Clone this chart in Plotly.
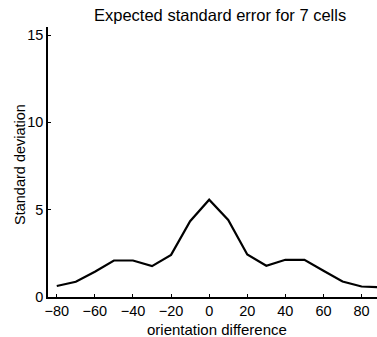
import plotly.graph_objects as go

orientation = [-80, -70, -60, -50, -40, -30, -20, -10, 0, 10, 20, 30, 40, 50, 60, 70, 80, 90]
std_dev = [0.63, 0.87, 1.45, 2.09, 2.09, 1.77, 2.41, 4.34, 5.57, 4.41, 2.43, 1.79, 2.13, 2.13, 1.50, 0.89, 0.60, 0.55]
x_ticks = [-80, -60, -40, -20, 0, 20, 40, 60, 80]
y_ticks = [0, 5, 10, 15]

W, H = 377, 337
ml, mr, mt, mb = 48, 0, 27, 40
font = "Liberation Sans, Arial, sans-serif"

fig = go.Figure()
fig.add_trace(go.Scatter(x=orientation, y=std_dev, mode="lines",
                         line=dict(color="black", width=2.2), showlegend=False,
                         hoverinfo="skip"))

fig.update_layout(
    width=W, height=H,
    margin=dict(l=ml, r=mr, t=mt, b=mb, pad=0),
    paper_bgcolor="white", plot_bgcolor="white",
    font=dict(family=font, size=14, color="black"),
    xaxis=dict(range=[-84.6, 88.1], tickvals=x_ticks,
               ticktext=["\u2212" + str(-v) if v < 0 else str(v) for v in x_ticks],
               ticks="inside", ticklen=3, tickcolor="black", tickwidth=1,
               showline=True, linecolor="black", linewidth=1.5,
               showgrid=False, zeroline=False, ticklabelstandoff=0,
               tickfont=dict(size=14.5), fixedrange=True),
    yaxis=dict(range=[0, 15.46], tickvals=y_ticks,
               ticks="inside", ticklen=3, tickcolor="black", tickwidth=1,
               showline=True, linecolor="black", linewidth=1.5,
               showgrid=False, zeroline=False,
               tickfont=dict(size=14.5), fixedrange=True),
    annotations=[
        dict(text="Expected standard error for 7 cells", xref="paper", yref="paper",
             x=(219.5 - ml) / (W - ml - mr), y=1 + (mt - 15) / (H - mt - mb),
             xanchor="center", yanchor="middle", showarrow=False,
             font=dict(size=16.5, family=font)),
        dict(text="orientation difference", xref="paper", yref="paper",
             x=(217 - ml) / (W - ml - mr), y=-(319 - (H - mb)) / (H - mt - mb),
             xanchor="center", yanchor="top", showarrow=False,
             font=dict(size=15, family=font)),
        dict(text="Standard deviation", xref="paper", yref="paper",
             x=-(ml - 20) / (W - ml - mr), y=(H - mb - 165) / (H - mt - mb),
             xanchor="center", yanchor="middle", showarrow=False, textangle=-90,
             font=dict(size=14.5, family=font)),
    ],
)

fig.write_html("out.html")
